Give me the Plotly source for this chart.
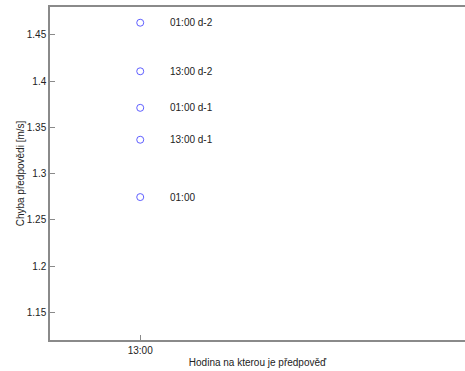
import plotly.graph_objects as go

# forecast error for the 13:00 target hour, by forecast issue time
hours = ["13:00"]
issue_labels = ["01:00 d-2", "13:00 d-2", "01:00 d-1", "13:00 d-1", "01:00"]
errors = [1.463, 1.4105, 1.371, 1.3365, 1.2745]

x_pos = [1] * len(errors)

FONT = dict(family="Liberation Sans, Arial", size=10, color="#222")

fig = go.Figure()
fig.add_trace(go.Scatter(
    x=x_pos, y=errors, mode="markers",
    marker=dict(symbol="circle-open", size=7, color="#5f5fff", line=dict(width=1)),
    showlegend=False, hoverinfo="skip",
))

for lbl, val in zip(issue_labels, errors):
    fig.add_annotation(x=1, y=val, text=lbl, showarrow=False,
                       xanchor="left", yanchor="middle", xshift=28, font=FONT)

axis_style = dict(showline=True, linecolor="#8a8a8a", linewidth=1.5,
                  ticks="inside", ticklen=5, tickcolor="#8a8a8a",
                  showgrid=False, zeroline=False, tickfont=FONT)

fig.update_layout(
    width=465, height=371,
    margin=dict(l=50, r=0, t=7, b=31),
    plot_bgcolor="white", paper_bgcolor="white",
    xaxis=dict(range=[0, 4.6], tickvals=[1], ticktext=hours, mirror=True,
               title=dict(text="Hodina na kterou je předpověď", standoff=4, font=FONT),
               **axis_style),
    yaxis=dict(range=[1.12, 1.48], tickvals=[1.15, 1.2, 1.25, 1.3, 1.35, 1.4, 1.45],
               ticktext=["1.15", "1.2", "1.25", "1.3", "1.35", "1.4", "1.45"],
               title=dict(text="Chyba předpovědi [m/s]", standoff=0, font=FONT),
               **axis_style),
)

fig.write_html("out.html")
